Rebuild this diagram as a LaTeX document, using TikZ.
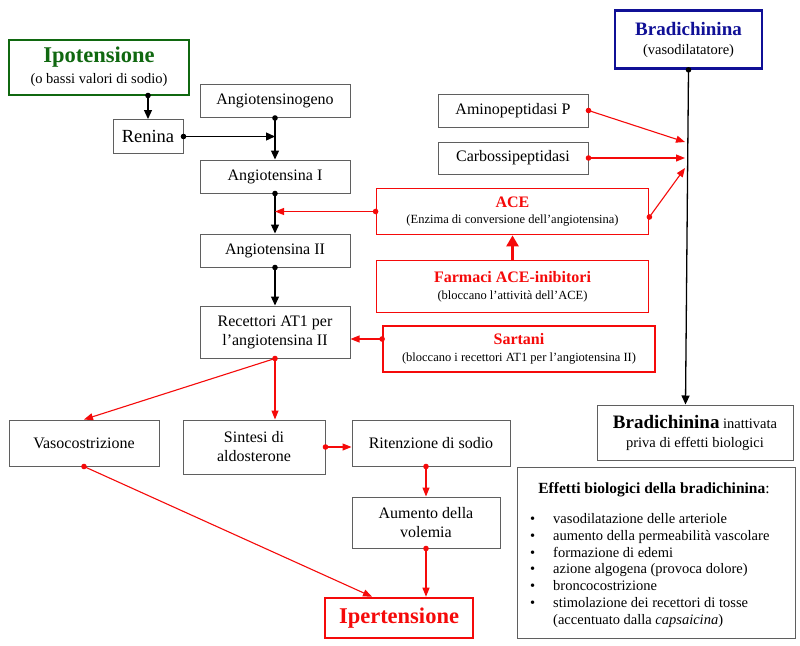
\documentclass[tikz,border=0pt]{standalone}
\usepackage{fontspec}
\setmainfont{Liberation Serif}
\usetikzlibrary{arrows.meta,calc}
\definecolor{ipogreen}{RGB}{16,104,16}
\definecolor{bradblue}{RGB}{16,16,150}
\definecolor{boxgray}{RGB}{95,95,95}
\definecolor{myred}{RGB}{245,10,10}
\begin{document}
\begin{tikzpicture}[x=1pt,y=-1pt,
  box/.style={draw=boxgray, line width=1pt, fill=white, align=center, inner sep=0pt, font=\fontsize{16}{19}\selectfont},
  redbox/.style={draw=myred, line width=1.8pt, fill=white, align=center, inner sep=0pt},
  barr/.style={line width=1.3pt, -{Triangle[length=9pt,width=8pt]}},
  rarr/.style={draw=myred, line width=1.1pt, -{Triangle[length=9pt,width=7pt]}},
  bigarr/.style={draw=myred, line width=2.6pt, -{Triangle[length=11pt,width=12pt]}}
]
\useasboundingbox (0,0) rectangle (800,645);
\fill[white] (0,0) rectangle (800,645);

% ---------- left / centre column ----------
\node[box, draw=ipogreen, line width=2pt, minimum width=180pt, minimum height=55pt] (ipo) at (99,67)
  {{\fontsize{22.5}{24}\selectfont\bfseries\color{ipogreen}Ipotensione}\\[2pt]
   {\fontsize{14.5}{16}\selectfont (o bassi valori di sodio)}};
\node[box, minimum width=70pt, minimum height=34pt, font=\fontsize{18.5}{21}\selectfont] (ren) at (148,136.5) {Renina};
\node[box, minimum width=150pt, minimum height=33pt] (agen) at (275,101) {Angiotensinogeno};
\node[box, minimum width=150pt, minimum height=33pt] (ang1) at (275,176.5) {Angiotensina I};
\node[box, minimum width=150pt, minimum height=33pt] (ang2) at (275,250.5) {Angiotensina II};
\node[box, minimum width=150pt, minimum height=52pt] (rec) at (275,332) {Recettori AT1 per\\l’angiotensina II};

\node[redbox, minimum width=272pt, minimum height=46pt] (ace) at (512.5,211.5)
  {{\fontsize{16}{18}\selectfont\bfseries\color{myred}ACE}\\[4pt]
   {\fontsize{12.5}{14}\selectfont (Enzima di conversione dell’angiotensina)}};
\node[redbox, minimum width=272pt, minimum height=52pt] (far) at (512.5,286.5)
  {{\fontsize{16}{18}\selectfont\bfseries\color{myred}Farmaci ACE-inibitori}\\[5pt]
   {\fontsize{12.5}{14}\selectfont (bloccano l’attività dell’ACE)}};
\node[redbox, minimum width=272pt, minimum height=46pt] (sar) at (519,349)
  {{\fontsize{16}{18}\selectfont\bfseries\color{myred}Sartani}\\[5pt]
   {\fontsize{12.5}{14}\selectfont (bloccano i recettori AT1 per l’angiotensina II)}};

\node[box, minimum width=150pt, minimum height=46pt] (vaso) at (84,443) {Vasocostrizione};
\node[box, minimum width=142pt, minimum height=54pt] (sin) at (254,447) {Sintesi di\\aldosterone};
\node[box, minimum width=158pt, minimum height=46pt] (rit) at (431,443) {Ritenzione di sodio};
\node[box, minimum width=148pt, minimum height=51pt] (aum) at (426,522.5) {Aumento della\\volemia};
\node[redbox, line width=2.6pt, minimum width=148pt, minimum height=40pt,
      font=\fontsize{22.5}{24}\selectfont\bfseries, text=myred] (iper) at (399,618) {Ipertensione};

% ---------- right column ----------
\node[box, draw=bradblue, line width=2.6pt, minimum width=147pt, minimum height=58pt] (brad) at (688.5,39.5)
  {{\fontsize{19}{21}\selectfont\bfseries\color{bradblue}Bradichinina}\\[0pt]
   {\fontsize{14.5}{16}\selectfont (vasodilatatore)}};
\node[box, minimum width=150pt, minimum height=33pt] (amino) at (513,110.5) {Aminopeptidasi P};
\node[box, minimum width=150pt, minimum height=32pt] (carb) at (513,158) {Carbossipeptidasi};
\node[box, minimum width=196pt, minimum height=55pt] (inatt) at (695,432.5)
  {{\fontsize{19}{21}\selectfont\bfseries Bradichinina}{\fontsize{14.5}{16}\selectfont\ inattivata}\\[0pt]
   {\fontsize{14.5}{16}\selectfont priva di effetti biologici}};
\node[box, minimum width=278pt, minimum height=171pt] (eff) at (656,552.5) {};
\node[font=\fontsize{15.5}{18}\selectfont, inner sep=0pt] (efftitle) at (654,490)
  {\textbf{Effetti biologici della bradichinina}:};
\node[anchor=north west, inner sep=0pt, font=\fontsize{14.5}{16.7}\selectfont] (efflist) at (530,512)
  {\begin{tabular}{@{}p{23pt}@{}l@{}}
   \textbullet & vasodilatazione delle arteriole\\
   \textbullet & aumento della permeabilità vascolare\\
   \textbullet & formazione di edemi\\
   \textbullet & azione algogena (provoca dolore)\\
   \textbullet & broncocostrizione\\
   \textbullet & stimolazione dei recettori di tosse\\
               & (accentuato dalla \textit{capsaicina})
   \end{tabular}};

% ---------- helper coordinates ----------
\coordinate (j0) at (ren.north |- ipo.south);
\coordinate (j1) at (agen.south |- ren.east);
\coordinate (j2) at (ang1.south |- ace.west);
\coordinate (s1) at ([yshift=10pt]sar.west);
\coordinate (s2) at (s1 -| rec.east);
\coordinate (r1) at (rec.south |- sin.north);
\coordinate (r2) at (aum.north |- rit.south);
\coordinate (r3) at (aum.south |- iper.north);
\coordinate (sa) at (sin.east -| rit.west);
\coordinate (ip1) at ($(iper.north)+(-27,0)$);
\coordinate (b1) at ($(brad.south |- inatt.north)+(-3,0)$);
\coordinate (t1) at (685,142);
\coordinate (t2) at (685,158);
\coordinate (t3) at (685,168);
\coordinate (a1) at ([yshift=-5.5pt]ace.east);

% ---------- black connectors ----------
\draw[barr] (j0) -- (ren.north);
\draw[barr] (ren.east) -- (j1);
\draw[barr] (agen.south) -- (ang1.north);
\draw[barr] (ang1.south) -- (ang2.north);
\draw[barr] (ang2.south) -- (rec.north);
\draw[barr] (brad.south) -- (b1);
\foreach \p in {j0, ren.east, agen.south, ang1.south, ang2.south, brad.south}
  \fill (\p) circle[radius=2.8pt];

% ---------- red connectors ----------
\draw[rarr] (ace.west) -- (j2);
\draw[bigarr] (far.north) -- (ace.south);
\draw[rarr] (s1) -- (s2);
\draw[rarr] (rec.south) -- (vaso.north);
\draw[rarr] (rec.south) -- (r1);
\draw[rarr] (sin.east) -- (sa);
\draw[rarr] (r2) -- (aum.north);
\draw[rarr] (aum.south) -- (r3);
\draw[rarr] (vaso.south) -- (ip1);
\draw[rarr] (amino.east) -- (t1);
\draw[rarr] (carb.east) -- (t2);
\draw[rarr] (a1) -- (t3);
\foreach \p in {ace.west, s1, rec.south, sin.east, r2, aum.south, vaso.south, amino.east, carb.east, a1}
  \fill[myred] (\p) circle[radius=2.8pt];
\end{tikzpicture}
\end{document}
